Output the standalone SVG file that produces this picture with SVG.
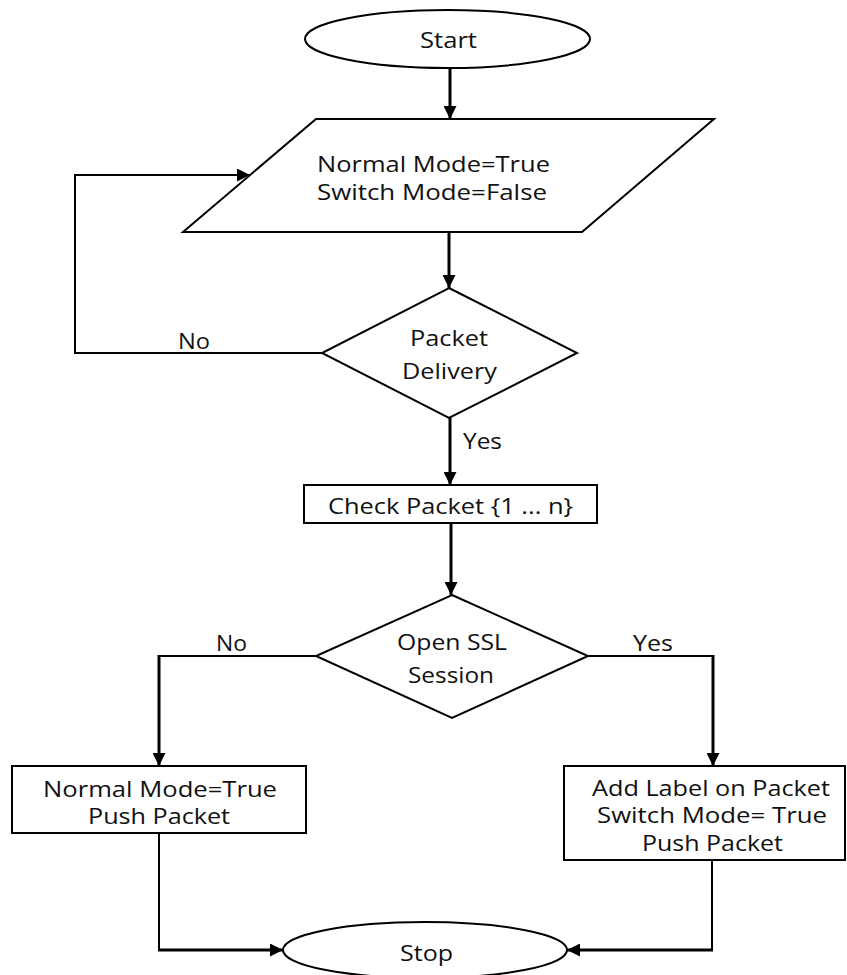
<svg xmlns="http://www.w3.org/2000/svg" width="847" height="975" viewBox="0 0 847 975">
  <style>
    .shape { fill: #ffffff; stroke: #000000; stroke-width: 2; }
    .lbl { font-family: "Open Sans", "Liberation Sans", sans-serif; font-size: 21px; fill: #111111; }
    .mid { text-anchor: middle; }
    .wire { fill: none; stroke: #000000; stroke-width: 2; }
    .flow { fill: none; stroke: #000000; stroke-width: 3; }
  </style>
  <defs>
    <marker id="arrow" viewBox="0 0 10 10" refX="10" refY="5" markerWidth="13" markerHeight="13" markerUnits="userSpaceOnUse" orient="auto">
      <path d="M0,0 L10,5 L0,10 z" fill="#000000"/>
    </marker>
  </defs>
  <rect width="847" height="975" fill="#ffffff"/>

  <!-- connectors -->
  <g id="connectors">
    <path class="flow" d="M450,68 L450,119" marker-end="url(#arrow)"/>
    <path class="flow" d="M449,232 L449,288" marker-end="url(#arrow)"/>
    <path class="wire" d="M322,353 L75,353 L75,175 L250,175" marker-end="url(#arrow)"/>
    <path class="flow" d="M450,418 L450,485" marker-end="url(#arrow)"/>
    <path class="flow" d="M451,523 L451,595" marker-end="url(#arrow)"/>
    <path class="wire" d="M316,656 L159,656"/>
    <path class="flow" d="M159,655 L159,766" marker-end="url(#arrow)"/>
    <path class="wire" d="M588,656 L713,656"/>
    <path class="flow" d="M713,655 L713,766" marker-end="url(#arrow)"/>
    <path class="wire" d="M159,833 L159,950"/>
    <path class="flow" d="M158,950 L283,950" marker-end="url(#arrow)"/>
    <path class="wire" d="M712,860 L712,950"/>
    <path class="flow" d="M713,950 L567,950" marker-end="url(#arrow)"/>
    <text class="lbl" x="178" y="349" textLength="32" lengthAdjust="spacingAndGlyphs">No</text>
    <text class="lbl" x="463" y="449" textLength="39" lengthAdjust="spacingAndGlyphs">Yes</text>
    <text class="lbl" x="216" y="651" textLength="31" lengthAdjust="spacingAndGlyphs">No</text>
    <text class="lbl" x="633" y="651" textLength="40" lengthAdjust="spacingAndGlyphs">Yes</text>
  </g>

  <g id="start">
    <ellipse class="shape" cx="447.5" cy="39" rx="142.5" ry="29"/>
    <text class="lbl" x="420" y="48" textLength="57" lengthAdjust="spacingAndGlyphs">Start</text>
  </g>

  <g id="init-modes">
    <polygon class="shape" points="316,119 714,119 582,232 183,232"/>
    <text class="lbl" x="317" y="172" textLength="233" lengthAdjust="spacingAndGlyphs">Normal Mode=True</text>
    <text class="lbl" x="317" y="200" textLength="230" lengthAdjust="spacingAndGlyphs">Switch Mode=False</text>
  </g>

  <g id="packet-delivery">
    <polygon class="shape" points="449,288 577,353 449,418 322,353"/>
    <text class="lbl" x="410" y="346" textLength="78" lengthAdjust="spacingAndGlyphs">Packet</text>
    <text class="lbl" x="402" y="379" textLength="95" lengthAdjust="spacingAndGlyphs">Delivery</text>
  </g>

  <g id="check-packet">
    <rect class="shape" x="304" y="485" width="293" height="38"/>
    <text class="lbl" x="328" y="514" textLength="245" lengthAdjust="spacingAndGlyphs">Check Packet {1 ... n}</text>
  </g>

  <g id="open-ssl">
    <polygon class="shape" points="452,595 588,656 452,718 316,656"/>
    <text class="lbl" x="397" y="650" textLength="110" lengthAdjust="spacingAndGlyphs">Open SSL</text>
    <text class="lbl" x="408" y="683" textLength="86" lengthAdjust="spacingAndGlyphs">Session</text>
  </g>

  <g id="normal-push">
    <rect class="shape" x="12" y="766" width="294" height="67"/>
    <text class="lbl" x="43" y="797" textLength="234" lengthAdjust="spacingAndGlyphs">Normal Mode=True</text>
    <text class="lbl" x="88" y="824" textLength="142" lengthAdjust="spacingAndGlyphs">Push Packet</text>
  </g>

  <g id="label-push">
    <rect class="shape" x="564" y="766" width="281" height="94"/>
    <text class="lbl" x="592" y="796" textLength="238" lengthAdjust="spacingAndGlyphs">Add Label on Packet</text>
    <text class="lbl" x="597" y="823" textLength="230" lengthAdjust="spacingAndGlyphs">Switch Mode= True</text>
    <text class="lbl" x="642" y="851" textLength="141" lengthAdjust="spacingAndGlyphs">Push Packet</text>
  </g>

  <g id="stop">
    <ellipse class="shape" cx="425" cy="950" rx="142" ry="28"/>
    <text class="lbl" x="400" y="961" textLength="53" lengthAdjust="spacingAndGlyphs">Stop</text>
  </g>
</svg>
